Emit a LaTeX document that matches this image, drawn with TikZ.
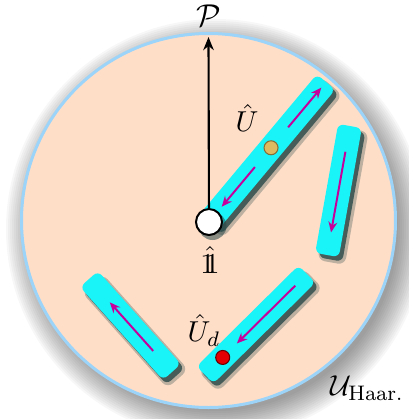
\documentclass[tikz,border=0pt]{standalone}
\usetikzlibrary{calc,arrows.meta}
\definecolor{peach}{RGB}{255,222,200}
\definecolor{rimblue}{RGB}{155,212,248}
\definecolor{barcyan}{RGB}{24,244,248}
\definecolor{barshadow}{RGB}{40,72,72}
\definecolor{arrmag}{RGB}{200,0,155}
\definecolor{golddot}{RGB}{221,185,95}
\definecolor{reddot}{RGB}{228,0,0}
\newcommand\idop{\mathord{\mathrm{1}\mkern-6mu\mathrm{1}}}
\newcommand\mybar[5]{%
  \node[barsoft, rotate=#4, minimum width=#5*0.38pt+1.5pt] (#1s2) at (#2+4.5,#3-5.5) {};
  \node[barsh, rotate=#4, minimum width=#5*0.38pt] (#1s) at (#2+3.5,#3-4.5) {};
  \node[bar, rotate=#4, minimum width=#5*0.38pt] (#1) at (#2,#3) {};}
\begin{document}
\begin{tikzpicture}[x=0.38pt,y=0.38pt,
  bar/.style={rectangle, rounded corners=2.2pt, fill=barcyan, inner sep=0pt, minimum height=24*0.38pt},
  barsh/.style={rectangle, rounded corners=2.2pt, fill=barshadow, opacity=0.8, inner sep=0pt, minimum height=24*0.38pt},
  barsoft/.style={rectangle, rounded corners=2.8pt, fill=barshadow, opacity=0.3, inner sep=0pt, minimum height=24*0.38pt+1.5pt},
  marr/.style={draw=arrmag, line width=0.75pt, -{Stealth[length=4pt,width=3.4pt]}},
  parr/.style={draw=black, line width=0.8pt, -{Stealth[length=5pt,width=4pt]}},
  dot/.style={circle, inner sep=0pt, minimum size=14*0.38pt, line width=0.4pt},
  lab/.style={inner sep=0pt, font=\fontsize{10.95}{13}\selectfont}]
\useasboundingbox (0,0) rectangle (409,-419);
% soft outer shadow
\foreach \r in {182,184,...,210} {\fill[black, opacity=0.03] (216,-229) circle (\r);}
% disk of Haar unitaries
\node[circle, fill=peach, draw=rimblue, line width=3*0.38pt, minimum size=374*0.38pt, inner sep=0pt] (haar) at (208.5,-220.5) {};
% bars
\mybar{b1}{267.5}{-152}{50.1}{182.5}
\mybar{b2}{338.5}{-190.5}{79.9}{131}
\mybar{b3}{130.5}{-325.5}{-48.25}{124.6}
\mybar{b4}{256}{-324.5}{44.7}{143.5}
% arrows along bars
\draw[marr] ($(b1.west)!0.675!(b1.east)$) -- ($(b1.west)!0.957!(b1.east)$);
\draw[marr] ($(b1.west)!0.393!(b1.east)$) -- ($(b1.west)!0.111!(b1.east)$);
\draw[marr] ($(b2.west)!0.798!(b2.east)$) -- ($(b2.west)!0.178!(b2.east)$);
\draw[marr] ($(b3.west)!0.771!(b3.east)$) -- ($(b3.west)!0.253!(b3.east)$);
\draw[marr] ($(b4.west)!0.882!(b4.east)$) -- ($(b4.west)!0.314!(b4.east)$);
% dots
\node[dot, fill=golddot, draw=golddot!60!black] (g) at ($(b1.west)!0.53!(b1.east)$) {};
\node[dot, fill=reddot, draw=reddot!45!black] (r) at ($(b4.west)!0.176!(b4.east)$) {};
% identity
\node[circle, fill=barshadow, opacity=0.55, minimum size=28*0.38pt, inner sep=0pt] (os) at (212.5,-226) {};
\node[circle, fill=white, draw=black, line width=0.75pt, minimum size=26*0.38pt, inner sep=0pt] (o) at (209,-222) {};
\coordinate (ptop) at (208.5,-37);
\draw[parr] (o) -- (ptop);
% labels
\node[lab, font=\large] (lP) at (209,-16) {$\mathcal{P}$};
\node[lab] (lU) at (247,-118) {$\hat{U}$};
\node[lab] (l1) at (210,-260) {$\hat{\idop}$};
\node[lab] (lUd) at (204,-330) {$\hat{U}_d$};
\node[lab] (lH) at (367,-388) {$\mathcal{U}_{\mathrm{Haar.}}$};
\end{tikzpicture}
\end{document}
